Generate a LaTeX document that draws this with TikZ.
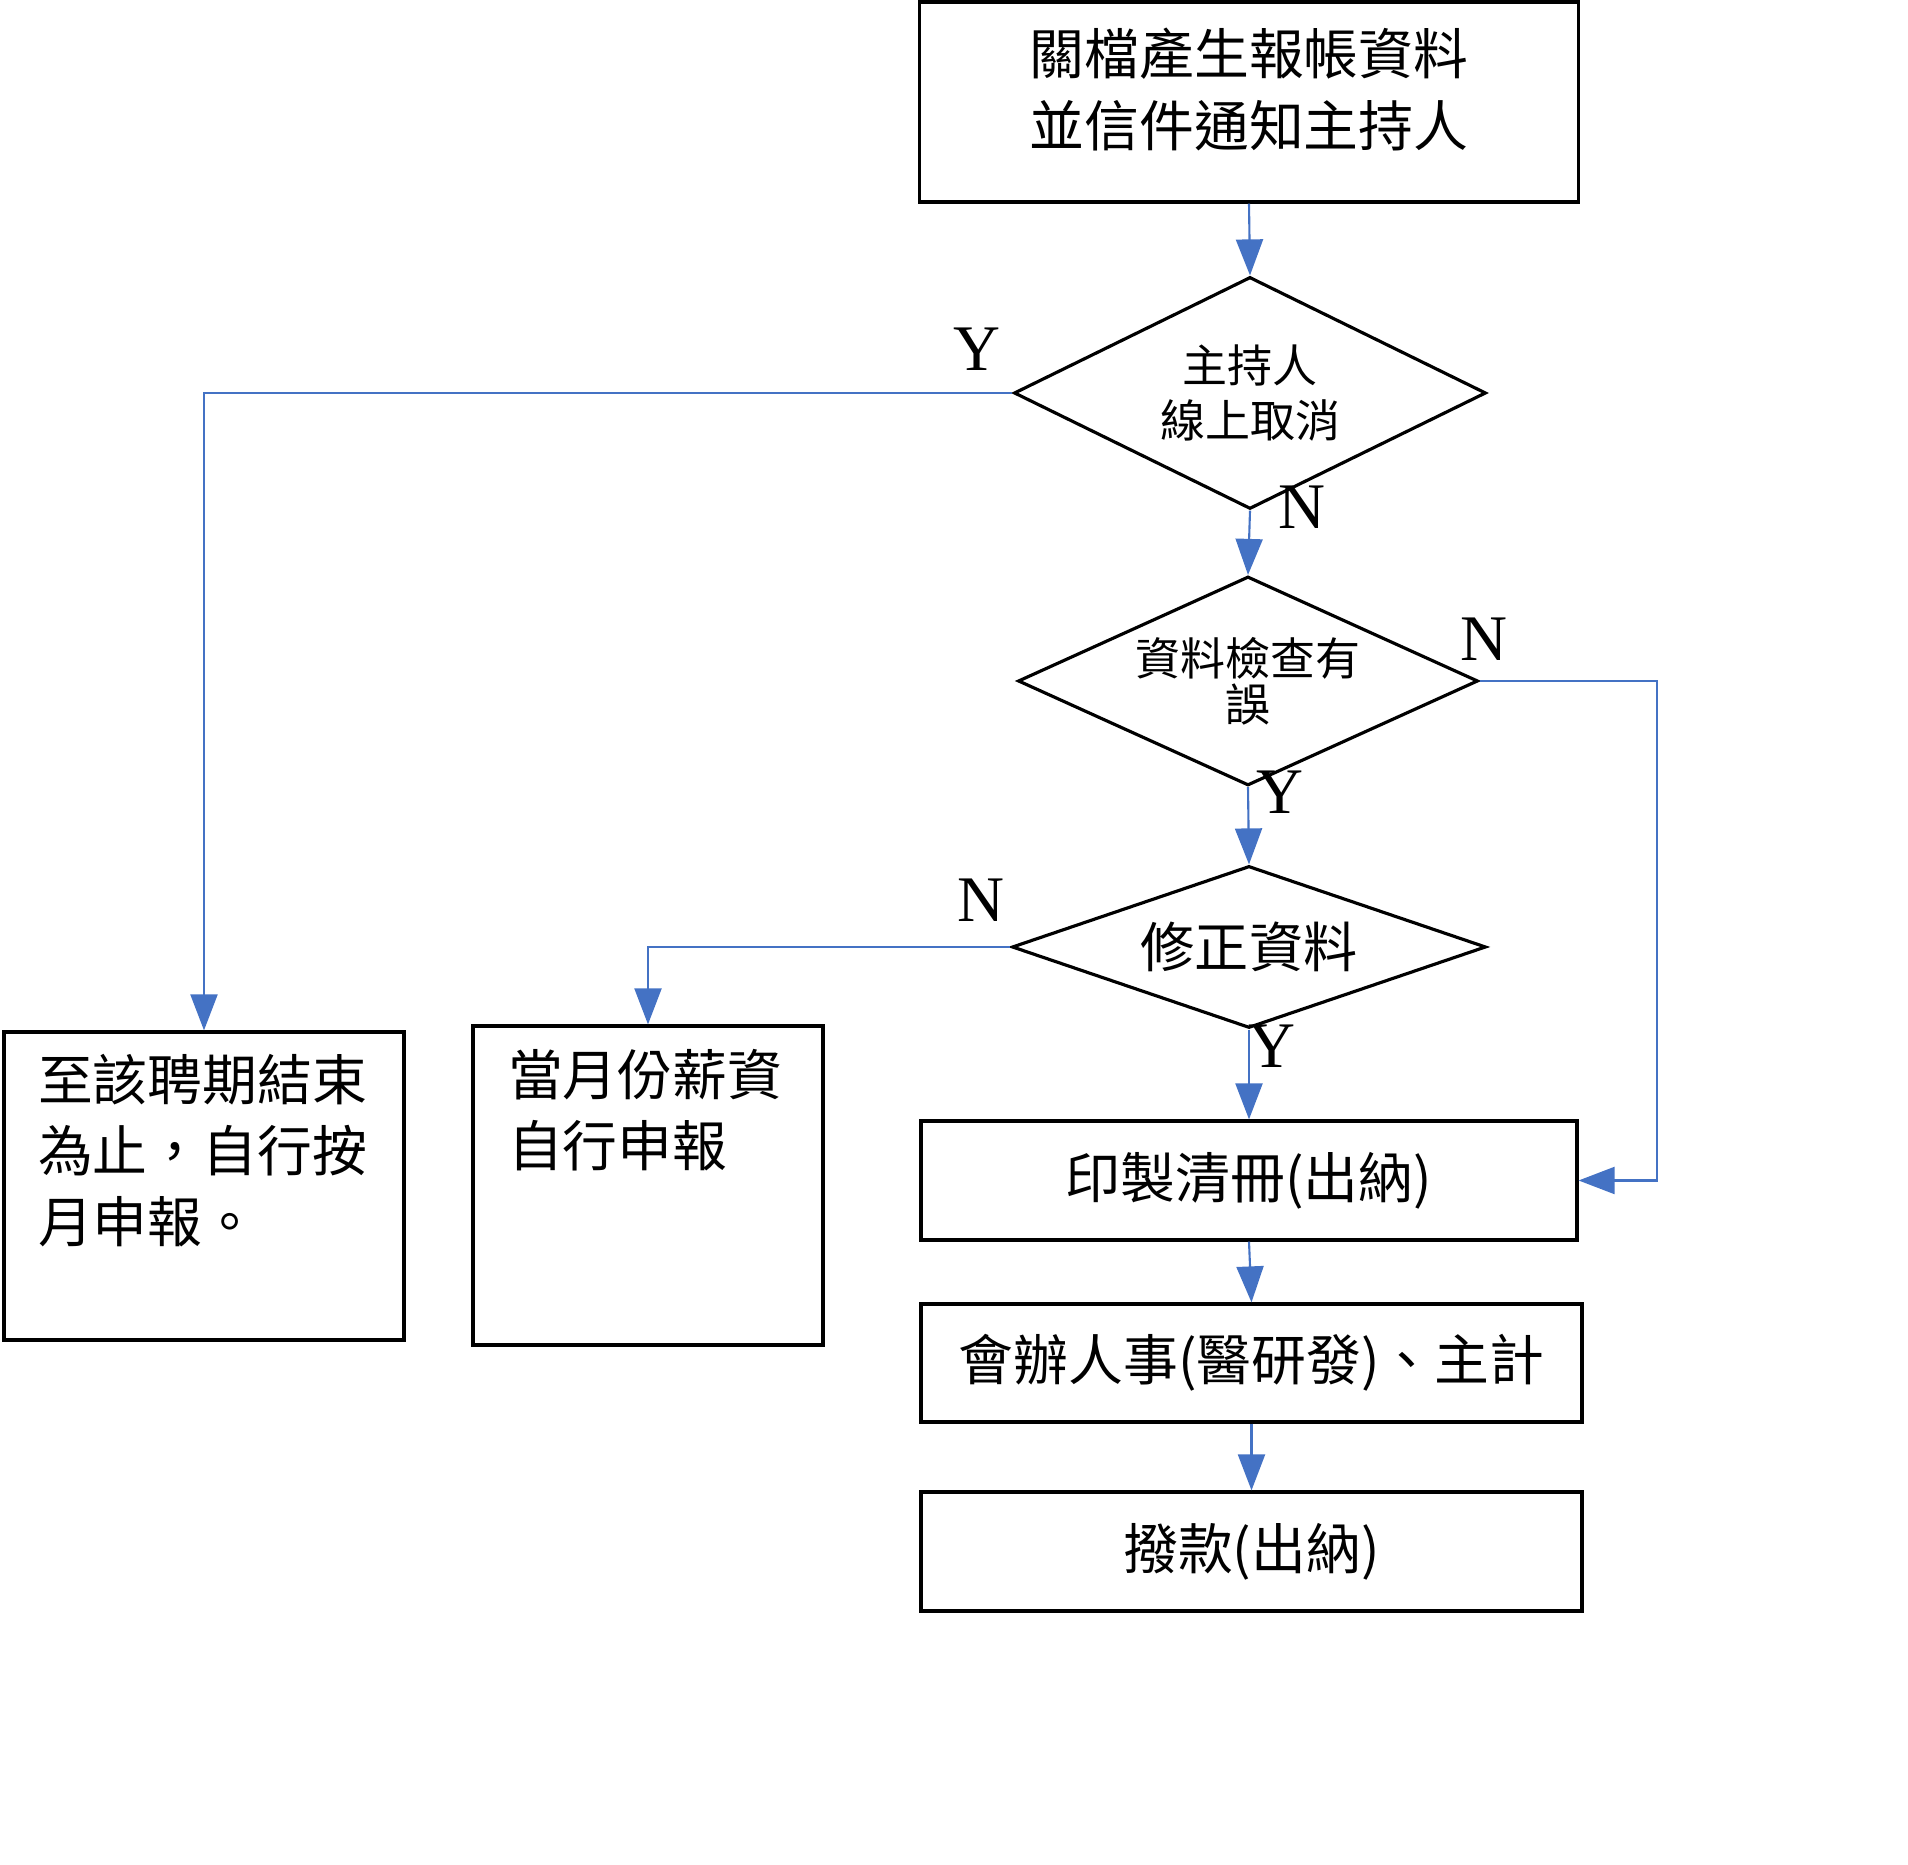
\documentclass[tikz,border=0pt]{standalone}
\usepackage{fontspec}
\setmainfont{Liberation Serif}
\newfontfamily\cjk{Noto Sans CJK TC}
\usepackage{tikz}
\usetikzlibrary{arrows.meta, positioning, shapes.geometric, calc}
\definecolor{flowblue}{HTML}{4472C4}

\begin{document}
\begin{tikzpicture}[
    box/.style={rectangle, draw, line width=0.9pt, inner sep=0pt, align=center, font=\cjk\fontsize{15.6}{20.5}\selectfont},
    decision/.style={diamond, draw, line width=0.9pt, inner sep=0pt, align=center},
    note/.style={anchor=north west, align=left, inner sep=0pt, font=\cjk\fontsize{15.6}{20.2}\selectfont},
    flow/.style={draw=flowblue, line width=0.6pt, -{Triangle[length=0.36cm, width=0.27cm]}},
    yn/.style={font=\fontsize{18.5}{22}\selectfont}
]
    \useasboundingbox (0, 0) rectangle (19.08, 18.65);

    \node[box, minimum width=6.59cm, minimum height=2cm, text depth=0.3cm] (close) at (12.49, 17.63) {關檔產生報帳資料\\並信件通知主持人};
    \node[decision, minimum width=4.72cm, minimum height=2.32cm, shape aspect=2.03,
        font=\cjk\fontsize{12.8}{15.6}\selectfont] (cancel) at (12.50, 14.72) {主持人\\線上取消};
    \node[decision, minimum width=4.60cm, minimum height=2.09cm, shape aspect=2.2,
        font=\cjk\fontsize{12.8}{13.1}\selectfont] (check) at (12.48, 11.84) {資料檢查有\\誤};
    \node[decision, minimum width=4.74cm, minimum height=1.62cm, shape aspect=2.9,
        font=\cjk\fontsize{15.4}{18}\selectfont] (fix) at (12.49, 9.18) {修正資料};
    \node[box, minimum width=6.56cm, minimum height=1.19cm] (print) at (12.49, 6.845) {印製清冊(出納)};
    \node[box, minimum width=6.61cm, minimum height=1.18cm] (sign) at (12.515, 5.02) {會辦人事(醫研發)、主計};
    \node[box, minimum width=6.61cm, minimum height=1.19cm] (pay) at (12.515, 3.135) {撥款(出納)};
    \node[box, minimum width=4.00cm, minimum height=3.08cm] (term) at (2.04, 6.79) {};
    \node[box, minimum width=3.50cm, minimum height=3.19cm] (month) at (6.48, 6.795) {};
    \node[note] (termtext) at ($(term.north west)+(0.35,-0.23)$) {至該聘期結束\\為止，自行按\\月申報。};
    \node[note] (monthtext) at ($(month.north west)+(0.36,-0.24)$) {當月份薪資\\自行申報};

    \node[yn] (y1) at (9.77, 15.16) {Y};
    \node[yn] (n1) at (13.02, 13.58) {N};
    \node[yn] (n2) at (14.84, 12.26) {N};
    \node[yn] (y2) at (12.80, 10.73) {Y};
    \node[yn] (n3) at (9.81, 9.65) {N};
    \node[yn] (y3) at (12.72, 8.19) {Y};

    \coordinate (rt) at (16.57, 11.84);

    \draw[flow] (close.south) -- (cancel.north);
    \draw[flow] (cancel.south) -- (check.north);
    \draw[flow] (check.south) -- (fix.north);
    \draw[flow] (fix.south) -- (print.north);
    \draw[flow] (print.south) -- (sign.north);
    \draw[flow] (sign.south) -- (pay.north);
    \draw[flow] (cancel.west) -| (term.north);
    \draw[flow] (fix.west) -| (month.north);
    \draw[flow] (check.east) -- (rt) |- (print.east);
\end{tikzpicture}
\end{document}
